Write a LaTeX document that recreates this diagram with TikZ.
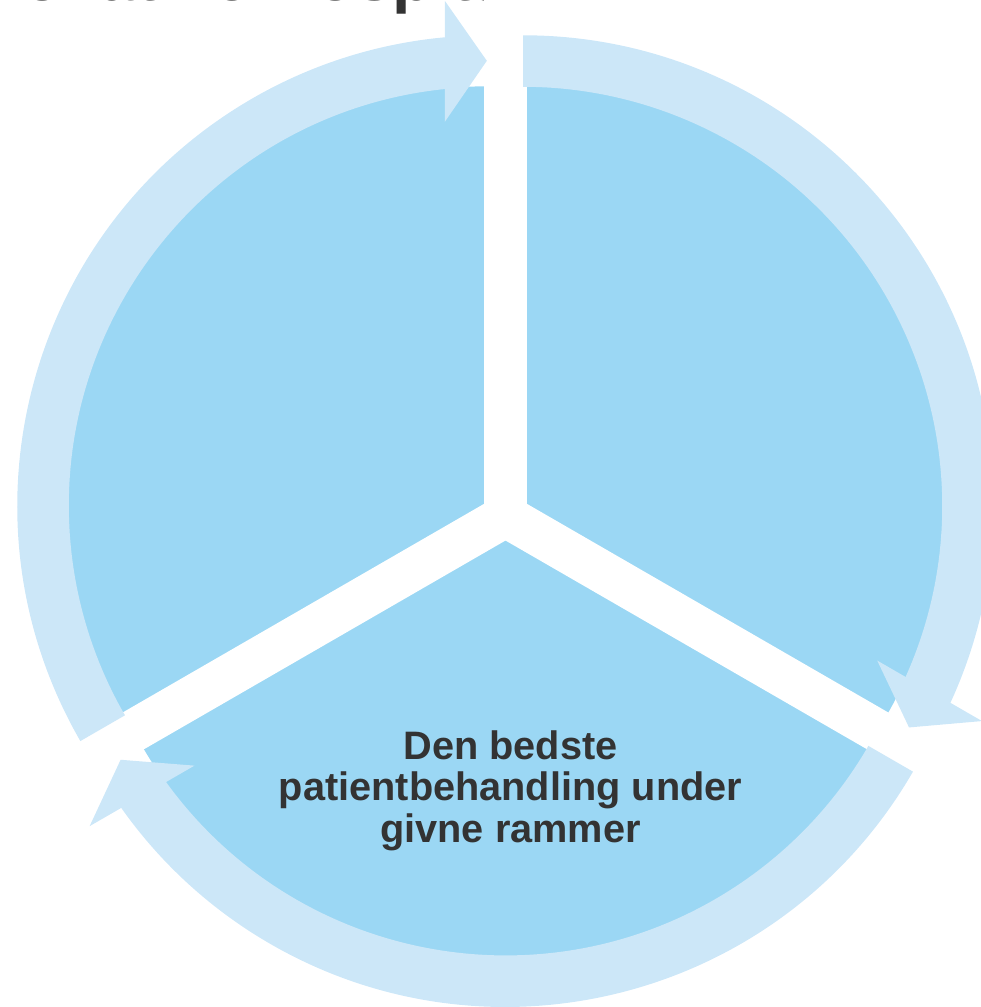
\documentclass[tikz,border=0pt]{standalone}
\usepackage{fontspec}
\setmainfont{Liberation Sans}
\definecolor{ringblue}{RGB}{204,231,248}
\definecolor{pieblue}{RGB}{155,215,244}
\definecolor{txtgray}{RGB}{51,51,51}
\tikzset{
  gapline/.style={white, line width=42.5pt, line cap=butt},
  bandfill/.style={fill=ringblue},
  headfill/.style={fill=ringblue},
  labeltext/.style={txtgray, font=\bfseries\fontsize{39.7}{41.5}\selectfont, align=center, inner sep=0pt},
  titletext/.style={txtgray, font=\bfseries\fontsize{66}{66}\selectfont, inner sep=0pt}
}
\begin{document}
\begin{tikzpicture}[x=1pt,y=1pt]
% origin at the junction of the three gaps (image pixel 505.5,516), y upwards
\useasboundingbox (-505.5,-491) rectangle (475.5,516);
\coordinate (J) at (0,0);

% title, mostly above the page
\node[titletext, anchor=base east] (title) at (23.2,515) {Innovative Hospital};

% exploded pie sectors (each centred 20.4 out along its bisector)
\foreach \a in {90,210,330}{
  \begin{scope}
    \clip (J) -- (\a:1200) -- (\a+60:1200) -- (\a+120:1200) -- cycle;
    \fill[pieblue] (\a+60:20.4) circle [radius=419.5];
  \end{scope}
}

% white gaps
\draw[gapline] (J) -- (90:700);
\draw[gapline] (J) -- (210:700);
\draw[gapline] (J) -- (330:700);
\fill[white] (J) circle [radius=21];

% ring arrows: band from gap \p+120 clockwise to gap \p, head at gap \p
\foreach \p in {90,330,210}{
  \begin{scope}[shift={(\p+60:20.4)}]
    \fill[bandfill] (\p+120:470.5) arc[start angle=\p+120, end angle=\p+4.5, radius=470.5]
      -- (\p+4.5:419) arc[start angle=\p+4.5, end angle=\p+120, radius=419] -- cycle;
    \begin{scope}[rotate=\p-90]
      \fill[headfill] (-1,445) -- (-43,505) -- (-43,384) -- cycle;
    \end{scope}
  \end{scope}
}

% label
\node[labeltext] (lbl) at (5,-274.7) {Den bedste\\patientbehandling under\\givne rammer};
\end{tikzpicture}
\end{document}
